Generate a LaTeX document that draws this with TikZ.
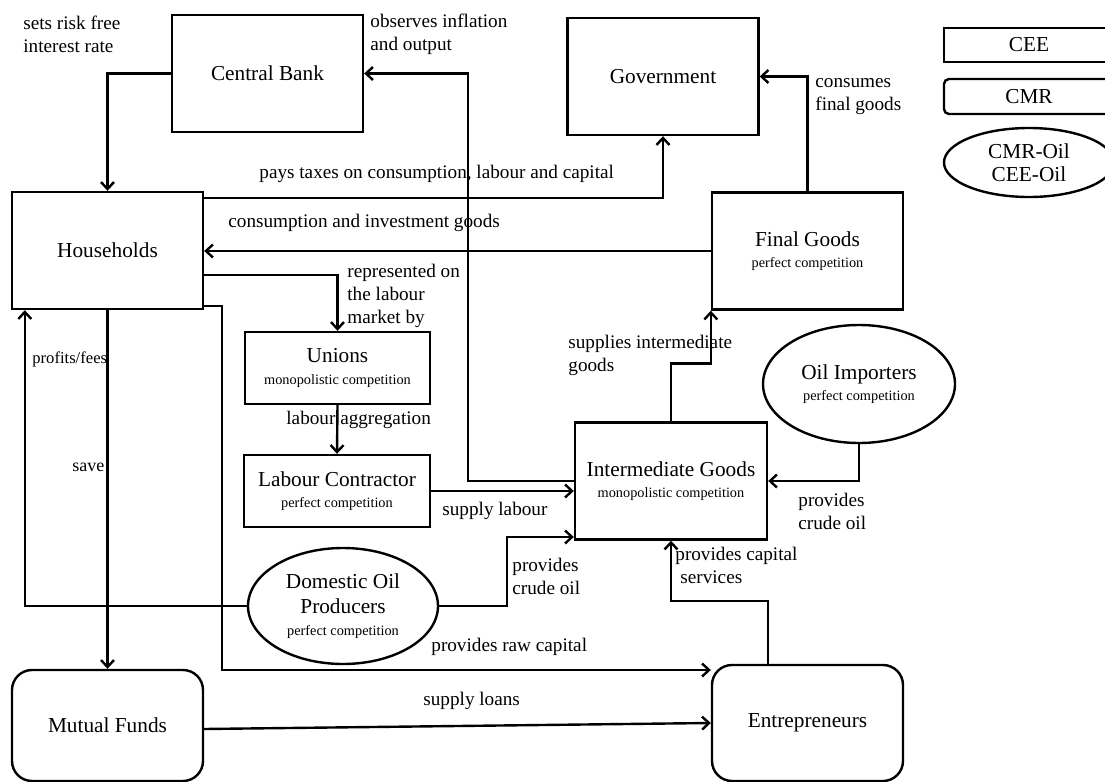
\documentclass[tikz,border=0pt]{standalone}
\usepackage{fontspec}
\setmainfont{Liberation Serif}
\usetikzlibrary{arrows.meta,calc,shapes.geometric}
\newcommand{\boxfont}{\fontsize{10.65}{12.8}\selectfont}
\newcommand{\lblfont}{\fontsize{9.6}{11.5}\selectfont}
\newcommand{\kindfont}{\fontsize{7.15}{8.6}\selectfont}
\newcommand{\compkind}[1]{\\[-2pt]{\kindfont #1}}

\begin{document}
\begin{tikzpicture}[x=0.5pt,y=-0.5pt,
    agent/.style={draw, line width=1.2pt, minimum width=95.5pt, minimum height=58.5pt, inner sep=0pt, align=center, font=\boxfont},
    fund/.style={agent, rounded corners=10pt},
    oil/.style={agent, ellipse, minimum height=58pt},
    flow/.style={line width=1.2pt, -{Straight Barb[length=3.5pt,width=6.5pt]}},
    lbl/.style={font=\lblfont, align=left, anchor=west, inner sep=0pt}
  ]
    \clip (0,0) rectangle (1105,782);
    % agents
    \node[agent] (cb) at (267.5,73.5) {Central Bank};
    \node[agent] (gov) at (663,76.5) {Government};
    \node[agent] (hh) at (107.5,250.5) {Households};
    \node[agent] (fg) at (807.5,251) {Final Goods\compkind{perfect competition}};
    \node[agent, minimum width=92.5pt, minimum height=36pt] (un) at (337.5,368) {Unions\compkind{monopolistic competition}};
    \node[agent, minimum width=93pt, minimum height=36pt] (lc) at (337,491) {Labour Contractor\compkind{perfect competition}};
    \node[agent, minimum width=96pt] (ig) at (671,481) {Intermediate Goods\compkind{monopolistic competition}};
    \node[oil, minimum width=96pt, minimum height=59pt] (oi) at (859,384) {Oil Importers\compkind{perfect competition}};
    \node[oil, minimum width=95pt] (dop) at (343,606) {Domestic Oil\\Producers\compkind{perfect competition}};
    \node[fund, minimum height=55.5pt] (mf) at (107.5,725.5) {Mutual Funds};
    \node[fund, minimum height=58pt] (ent) at (807.5,723) {Entrepreneurs};
    % legend
    \node[agent, minimum width=85pt, minimum height=17pt] (cee) at (1029,45) {CEE};
    \node[agent, rounded corners=2.5pt, minimum width=85pt, minimum height=17.5pt] (cmr) at (1029,96.5) {CMR};
    \node[oil, minimum width=85pt, minimum height=34.5pt] (cmroil) at (1029,162.5) {CMR-Oil\\[-1.3pt]CEE-Oil};
    % flows
    \coordinate (obs) at (468,74);
    \coordinate (dcrude) at (507,537);
    \coordinate (rawcap) at (222,670);
    \draw[flow] (cb.west) -| (hh.north);
    \draw[flow] (ig.west) -| (cb.east -| obs) -- (cb.east);
    \draw[flow] ($(hh.north east)+(0,7)$) -| (gov.south);
    \draw[flow] (fg.west) -- (fg.west -| hh.east);
    \draw[flow] ($(hh.east)+(0,24.5)$) -| (un.north);
    \draw[flow] (un.south) -- (lc.north);
    \draw[flow] (lc.east) -- (lc.east -| ig.west);
    \draw[flow] (fg.north) |- (gov.east);
    \draw[flow] (ig.north) -- ++(0,-58) -| (fg.south west);
    \draw[flow] (oi.south) |- (ig.east);
    \draw[flow] (dop.east) -| (dcrude) -- (dcrude -| ig.west);
    \draw[flow] (ig.south east |- ent.north) -- ++(0,-63) -| (ig.south);
    \draw[flow] ($(hh.south east)+(0,-4)$) -| (rawcap) -- (rawcap -| ent.west);
    \draw[flow] (dop.west) -| ($(hh.south west)+(14,0)$);
    \draw[flow] (hh.south) -- (mf.north);
    \draw[flow] ($(mf.east)+(0,3.5)$) -- (ent.west);
    % labels
    \node[lbl] (lrate) at (23,34.5) {sets risk free\\interest rate};
    \node[lbl] (lobs) at (370,34.5) {observes inflation\\and output};
    \node[lbl] (ltax) at (259,174) {pays taxes on consumption, labour and capital};
    \node[lbl] (lcons) at (228,223) {consumption and investment goods};
    \node[lbl] (lrep) at (347,296) {represented on\\the labour\\market by};
    \node[lbl] (lfin) at (815,97) {consumes\\final goods};
    \node[lbl] (lsup) at (568,355.5) {supplies intermediate\\goods};
    \node[lbl, font=\fontsize{8.3}{10}\selectfont] (lprof) at (32,359) {profits/fees};
    \node[lbl, font=\fontsize{9}{10.8}\selectfont] (lsave) at (72,467) {save};
    \node[lbl] (lagg) at (286,420) {labour aggregation};
    \node[lbl] (llab) at (442,511) {supply labour};
    \node[lbl] (ldcrude) at (512,576) {provides\\crude oil};
    \node[lbl] (lcap) at (675,565.5) {provides capital\\\hspace*{2.5pt}services};
    \node[lbl] (licrude) at (798,511.5) {provides\\crude oil};
    \node[lbl] (lraw) at (431,647) {provides raw capital};
    \node[lbl] (lloan) at (423,701) {supply loans};
\end{tikzpicture}
\end{document}
